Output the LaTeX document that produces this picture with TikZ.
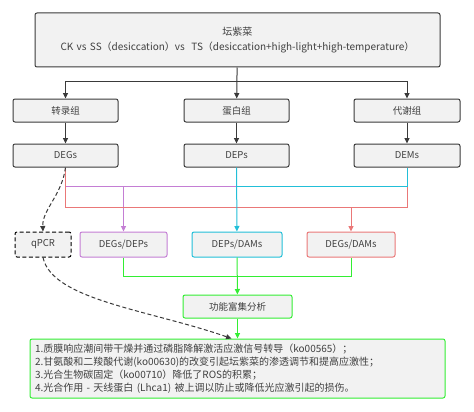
\documentclass[tikz,border=0pt]{standalone}
\usepackage{fontspec}
\setmainfont{Noto Sans CJK SC}
\usetikzlibrary{arrows.meta}
\definecolor{boxfill}{HTML}{F2F2F2}
\definecolor{edge}{HTML}{3A3A3A}
\definecolor{txt}{HTML}{404040}
\definecolor{lnpurple}{HTML}{C47ED4}
\definecolor{lncyan}{HTML}{22BFD8}
\definecolor{lnred}{HTML}{EA7878}
\definecolor{lngreen}{HTML}{33EE33}

\begin{document}
\begin{tikzpicture}[x=1pt,y=-1pt,
  font=\fontsize{9.5}{13}\selectfont,
  box/.style={draw=edge, fill=boxfill, rounded corners=2pt, line width=1pt,
    text=txt, inner sep=0pt, minimum height=23pt},
  arr/.style={-{Triangle[length=5.5pt,width=5pt]}, line width=1pt},
  link/.style={line width=1pt}]
\useasboundingbox (0,0) rectangle (474,412);
% boxes
\node[box, minimum width=405pt, minimum height=54pt, align=center, text width=400pt,
  font=\fontsize{10}{15}\selectfont] (top) at (237.5,40)
  {坛紫菜\\CK vs SS（desiccation）vs\ \ TS（desiccation+high-light+high-temperature）};
\node[box, minimum width=105pt] (trans) at (65.5,110.5) {转录组};
\node[box, minimum width=105pt] (prot) at (236.5,110.5) {蛋白组};
\node[box, minimum width=106pt] (meta) at (407,110.5) {代谢组};
\node[box, minimum width=105pt] (degs) at (65.5,155.5) {DEGs};
\node[box, minimum width=105pt] (deps) at (236.5,155.5) {DEPs};
\node[box, minimum width=106pt] (dems) at (407,155.5) {DEMs};
\node[box, dashed, dash pattern=on 4pt off 2.5pt, draw=black, minimum width=56pt, minimum height=25pt] (qpcr) at (43,244.5) {qPCR};
\node[box, draw=lnpurple, minimum width=87pt, minimum height=25pt] (gp) at (123.5,244.5) {DEGs/DEPs};
\node[box, draw=lncyan, minimum width=90pt, minimum height=25pt] (pm) at (237,244.5) {DEPs/DAMs};
\node[box, draw=lnred, minimum width=88pt, minimum height=25pt] (gm) at (351,244.5) {DEGs/DAMs};
\node[box, draw=lngreen, minimum width=109pt] (func) at (237.5,306.5) {功能富集分析};
\node[box, draw=lngreen, minimum width=415pt, minimum height=59pt, align=left,
  text width=405pt, font=\fontsize{10}{12.8}\selectfont] (res) at (237.5,368.5)
  {1.质膜响应潮间带干燥并通过磷脂降解激活应激信号转导（ko00565）；\\
   2.甘氨酸和二羧酸代谢(ko00630)的改变引起坛紫菜的渗透调节和提高应激性；\\
   3.光合生物碳固定（ko00710）降低了ROS的积累；\\
   4.光合作用 - 天线蛋白 (Lhca1) 被上调以防止或降低光应激引起的损伤。};
% rows
\coordinate (hub) at (237,82);
\coordinate (r1) at (0,186);
\coordinate (r2) at (0,207);
\coordinate (r3) at (0,276);
% black arrows
\draw[arr, draw=edge] (top) -- (prot);
\draw[arr, draw=edge] (hub) -| (trans);
\draw[arr, draw=edge] (hub) -| (meta);
\draw[arr, draw=edge] (trans) -- (degs);
\draw[arr, draw=edge] (prot) -- (deps);
\draw[arr, draw=edge] (meta) -- (dems);
% coloured links
\draw[link, lnpurple] (degs.south) |- (r1 -| deps);
\draw[arr, lnpurple] (r1 -| gp) -- (gp);
\draw[link, lnred] (degs.south) |- (r2 -| dems) -- (dems.south);
\draw[arr, lnred] (r2 -| gm) -- (gm);
\draw[link, lncyan] (dems.south) |- (r1 -| deps);
\draw[arr, lncyan] (deps) -- (pm);
\draw[link, lngreen] (gp) |- (r3 -| gm) -- (gm);
\draw[arr, lngreen] (pm) -- (func);
\draw[arr, lngreen] (func) -- (res);
% qPCR
\draw[arr, edge, dashed, dash pattern=on 4pt off 2.5pt] (degs.south) .. controls (62,195) and (42,210) .. (qpcr.north);
\draw[arr, edge, dashed, dash pattern=on 4pt off 2.5pt] (qpcr.south) .. controls (52,300) and (150,310) .. ([xshift=-6pt]res.north);
\end{tikzpicture}
\end{document}
